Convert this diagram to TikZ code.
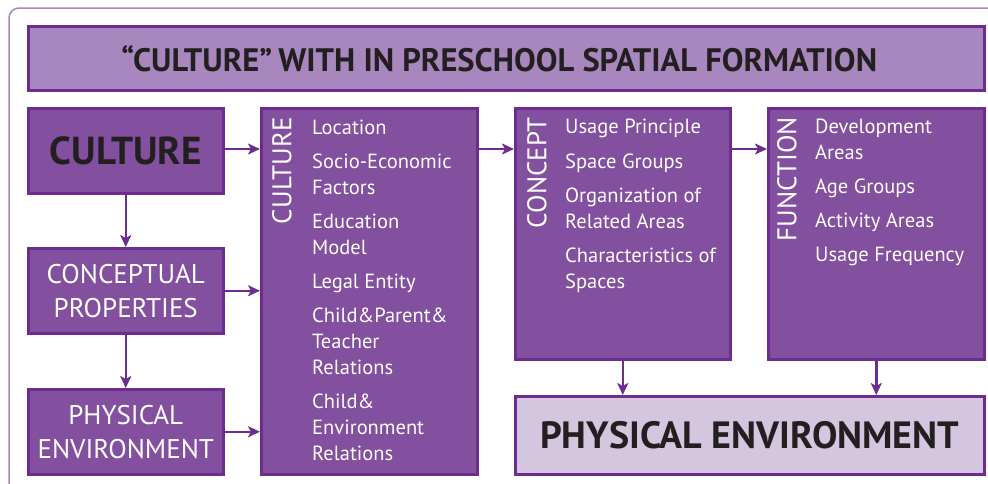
\documentclass[tikz,border=0pt]{standalone}
\usepackage{fontspec}
\setmainfont{PT Sans}
\usetikzlibrary{arrows.meta}
\definecolor{boxfill}{HTML}{834F9F}
\definecolor{boxline}{HTML}{6E2C91}
\definecolor{titlefill}{HTML}{A886BE}
\definecolor{lightfill}{HTML}{D5C6E0}
\definecolor{darktext}{HTML}{231F20}
\definecolor{framecol}{HTML}{A886BE}
\tikzset{
  pbox/.style={draw=boxline, line width=2.5pt, fill=boxfill, inner sep=0pt},
  tbox/.style={draw=boxline, line width=2.5pt, fill=titlefill, inner sep=0pt},
  lbox/.style={draw=boxline, line width=2.5pt, fill=lightfill, inner sep=0pt},
  conn/.style={draw=boxline, line width=2.5pt, -{Stealth[length=12pt,width=11pt,inset=3pt]}},
  item/.style={anchor=base west, inner sep=0pt, text=white, font=\fontsize{20.5}{24}\selectfont},
  vlab/.style={rotate=90, anchor=north east, inner sep=0pt, text=white, font=\fontsize{27}{30}\selectfont},
  midlab/.style={text=white, align=center, font=\fontsize{27}{34}\selectfont}
}
\begin{document}
\begin{tikzpicture}[x=1pt,y=-1pt]
\useasboundingbox (0,0) rectangle (988,483);
% outer frame
\draw[framecol, line width=1.5pt, rounded corners=10pt] (9,490) -- (9,8) -- (995,8);
% title
\node[tbox, minimum width=956pt, minimum height=64pt, anchor=north west] (title) at (27,25) {};
\node[text=darktext, font=\fontsize{32.5}{36}\selectfont\bfseries] (titletxt) at ([xshift=-7pt]title.center) {“CULTURE”\kern-2pt{} WITH IN PRESCHOOL SPATIAL FORMATION};
% left column
\node[pbox, minimum width=195pt, minimum height=85pt, anchor=north west] (cul) at (27,107) {};
\node[text=darktext, font=\fontsize{39}{44}\selectfont\bfseries] (cultxt) at (cul.center) {CULTURE};
\node[pbox, minimum width=195pt, minimum height=85pt, anchor=north west] (cp) at (27,247) {};
\node[midlab] (cptxt) at (cp.center) {CONCEPTUAL\\PROPERTIES};
\node[pbox, minimum width=195pt, minimum height=85pt, anchor=north west] (pe) at (27,388) {};
\node[midlab] (petxt) at (pe.center) {PHYSICAL\\ENVIRONMENT};
% culture list
\node[pbox, minimum width=216pt, minimum height=366pt, anchor=north west] (cl) at (260,107) {};
\node[vlab] (cllab) at (272,117) {CULTURE};
\foreach \t/\y [count=\i] in {Location/134, Socio-Economic/168, Factors/194, Education/228, Model/254, Legal Entity/288, Child\&Parent\&/322, Teacher/348, Relations/374, Child\&/408, Environment/434, Relations/460}
  \node[item] (cli\i) at (312,\y) {\t};
% concept
\node[pbox, minimum width=215pt, minimum height=251pt, anchor=north west] (co) at (514,107) {};
\node[vlab] (colab) at (527,117) {CONCEPT};
\foreach \t/\y [count=\i] in {Usage Principle/133, Space Groups/168, Organization of/202, Related Areas/228, Characteristics of/262, Spaces/288}
  \node[item] (coi\i) at (565,\y) {\t};
% function
\node[pbox, minimum width=216pt, minimum height=251pt, anchor=north west] (fu) at (767,107) {};
\node[vlab] (fulab) at (777,117) {FUNCTION};
\foreach \t/\y [count=\i] in {Development/133, Areas/159, Age Groups/193, Activity Areas/227, Usage Frequency/261}
  \node[item] (fui\i) at (815,\y) {\t};
% bottom
\node[lbox, minimum width=469pt, minimum height=78pt, anchor=north west] (pb) at (514,395) {};
\node[text=darktext, font=\fontsize{38}{40}\selectfont\bfseries] (pbtxt) at (pb.center) {PHYSICAL ENVIRONMENT};
% connectors
\draw[conn] (cul.east |- 0,149) -- (cl.west |- 0,149);
\draw[conn] (cp.east) -- (cl.west |- cp.east);
\draw[conn] (pe.east) -- (cl.west |- pe.east);
\draw[conn] (cl.east |- 0,149) -- (co.west |- 0,149);
\draw[conn] (co.east |- 0,149) -- (fu.west |- 0,149);
\draw[conn] (cul.south) -- (cp.north);
\draw[conn] (cp.south) -- (pe.north);
\draw[conn] (co.south) -- (co.south |- pb.north);
\draw[conn] (fu.south) -- (fu.south |- pb.north);
\end{tikzpicture}
\end{document}
